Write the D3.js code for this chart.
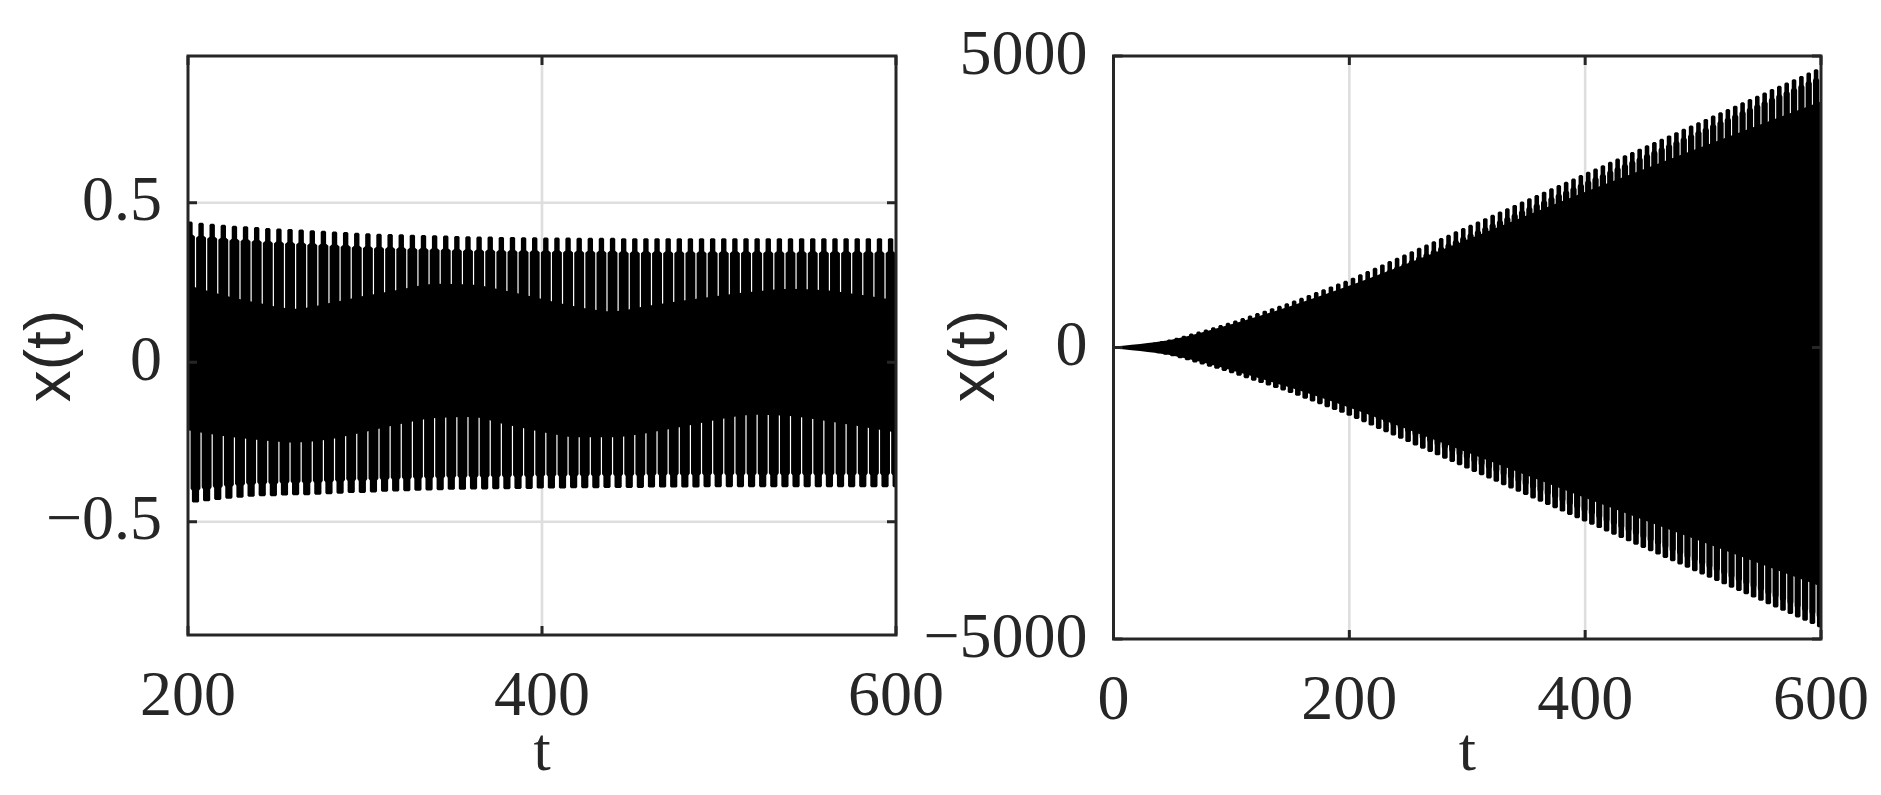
<!DOCTYPE html>
<html><head><meta charset="utf-8">
<script src="https://cdn.jsdelivr.net/npm/d3@7"></script>
<style>body{margin:0;background:#fff}svg{display:block}</style>
</head><body><svg id="c" width="1881" height="795"></svg>
<script>
// ---------- axis ticks ----------
const leftXTicks = [200, 400, 600];
const leftXTickLabels = ["200", "400", "600"];
const leftYTicks = [-0.5, 0, 0.5];
const leftYTickLabels = ["\u22120.5", "0", "0.5"];
const rightXTicks = [0, 200, 400, 600];
const rightXTickLabels = ["0", "200", "400", "600"];
const rightYTicks = [-5000, 0, 5000];
const rightYTickLabels = ["\u22125000", "0", "5000"];
const leftXDomain = [200, 600];
const leftYDomain = [-0.855, 0.96];
const rightXDomain = [0, 600];
const rightYDomain = [-5000, 5000];

// ---------- left panel: per-cycle extremes ----------
const leftPeakStart = 201.1, leftTroughStart = 204.24, leftPeriod = 6.2832;
const leftPeaks = [
  0.441,0.437,0.434,0.431,0.428,0.426,0.424,0.421,
  0.419,0.418,0.416,0.414,0.412,0.410,0.408,0.406,
  0.404,0.403,0.402,0.401,0.400,0.399,0.398,0.397,
  0.396,0.395,0.394,0.394,0.393,0.393,0.392,0.392,
  0.391,0.391,0.391,0.390,0.390,0.390,0.390,0.389,
  0.389,0.389,0.389,0.389,0.389,0.389,0.389,0.389,
  0.389,0.389,0.389,0.389,0.389,0.389,0.389,0.389,
  0.389,0.389,0.389,0.389,0.389,0.389,0.389,0.389];
const leftTroughs = [
  -0.440,-0.436,-0.432,-0.428,-0.425,-0.422,-0.420,-0.420,
  -0.418,-0.417,-0.417,-0.415,-0.414,-0.412,-0.410,-0.410,
  -0.408,-0.406,-0.405,-0.404,-0.403,-0.402,-0.401,-0.400,
  -0.400,-0.399,-0.399,-0.398,-0.398,-0.397,-0.397,-0.396,
  -0.396,-0.396,-0.395,-0.395,-0.395,-0.394,-0.394,-0.394,
  -0.394,-0.393,-0.393,-0.393,-0.393,-0.393,-0.392,-0.392,
  -0.392,-0.392,-0.392,-0.392,-0.392,-0.392,-0.392,-0.392,
  -0.392,-0.392,-0.392,-0.392,-0.392,-0.392,-0.392,-0.392];
// dense inner band of the trace
const leftCoreT  = [200,220,240,260,280,300,320,340,360,380,400,420,440,460,480,500,520,540,560,580,600];
const leftCoreHi = [0.238,0.207,0.182,0.164,0.182,0.205,0.225,0.243,0.240,0.220,0.195,0.170,0.156,0.174,0.190,0.205,0.218,0.227,0.222,0.208,0.190];
const leftCoreLo = [-0.210,-0.228,-0.240,-0.248,-0.238,-0.215,-0.190,-0.171,-0.168,-0.192,-0.215,-0.232,-0.232,-0.218,-0.198,-0.176,-0.161,-0.165,-0.180,-0.198,-0.217];

// ---------- right panel: per-cycle extremes ----------
const rightPeakStart = 3.6, rightTroughStart = 6.72, rightPeriod = 6.234;
const rightPeaks = [
  5,15,30,45,62,85,110,138,168,203,238,274,310,348,385,423,
  462,505,548,590,632,675,717,760,805,853,902,950,998,1048,1097,1145,
  1198,1255,1311,1368,1425,1482,1538,1595,1652,1709,1765,1822,1879,1935,1992,2049,
  2106,2162,2219,2276,2333,2389,2446,2503,2560,2616,2673,2730,2786,2843,2900,2957,
  3013,3070,3127,3184,3240,3297,3354,3411,3467,3524,3581,3638,3694,3751,3808,3864,
  3921,3978,4035,4091,4148,4205,4262,4318,4375,4432,4489,4545,4602,4659,4715,4772];
const rightTroughs = [
  -10,-22,-37,-52,-72,-97,-123,-152,-185,-220,-256,-292,-329,-366,-404,-442,
  -483,-526,-569,-611,-653,-696,-738,-782,-829,-877,-926,-974,-1023,-1072,-1121,-1172,
  -1226,-1283,-1340,-1396,-1453,-1510,-1566,-1623,-1680,-1737,-1793,-1850,-1907,-1964,-2020,-2077,
  -2134,-2190,-2247,-2304,-2361,-2417,-2474,-2531,-2588,-2644,-2701,-2758,-2815,-2871,-2928,-2985,
  -3041,-3098,-3155,-3212,-3268,-3325,-3382,-3439,-3495,-3552,-3609,-3665,-3722,-3779,-3836,-3892,
  -3949,-4006,-4063,-4119,-4176,-4233,-4290,-4346,-4403,-4460,-4517,-4573,-4630,-4687,-4743,-4800];
const rightCoreT  = [0, 50, 100, 150, 200, 300, 400, 500, 600];
const rightCoreHi = [0, 120, 380, 690, 1040, 1830, 2650, 3430, 4200];
const rightCoreLo = [0, -120, -370, -670, -1010, -1780, -2560, -3320, -4080];

// ---------- drawing ----------
const svg = d3.select("#c");
svg.append("rect").attr("width",1881).attr("height",795).attr("fill","#fff");
const AX = "#262626", GRID = "#dedede";

function panel(o) {
  const x = d3.scaleLinear().domain(o.xd).range([o.L, o.R]);
  const y = d3.scaleLinear().domain(o.yd).range([o.B, o.T]);
  const g = svg.append("g");
  // grid
  o.xt.forEach(v => { const px = x(v); if (px > o.L + 2 && px < o.R - 2)
    g.append("line").attr("x1",px).attr("x2",px).attr("y1",o.T).attr("y2",o.B).attr("stroke",GRID).attr("stroke-width",2.6); });
  o.yt.forEach(v => { const py = y(v); if (py > o.T + 2 && py < o.B - 2)
    g.append("line").attr("y1",py).attr("y2",py).attr("x1",o.L).attr("x2",o.R).attr("stroke",GRID).attr("stroke-width",2.6); });
  // clip
  const cid = "clip" + o.id;
  svg.append("clipPath").attr("id", cid).append("rect")
    .attr("x", o.L).attr("y", o.T).attr("width", o.R - o.L).attr("height", o.B - o.T);
  const d = g.append("g").attr("clip-path", `url(#${cid})`);
  // dense core band
  const core = o.coreT.map((t, i) => ({t, hi: o.coreHi[i], lo: o.coreLo[i]}));
  d.append("path").datum(core)
    .attr("d", d3.area().x(p => x(p.t)).y0(p => y(p.lo)).y1(p => y(p.hi)).curve(d3.curveMonotoneX))
    .attr("fill", "#000").attr("stroke", "#000").attr("stroke-width", 2.2);
  // per-cycle excursions
  const sp = x(o.xd[0] + o.period) - x(o.xd[0]);
  const hwW = sp / 2 - o.slit / 2;
  function finger(t, v, hwN, L) {
    const cx = x(t), yt = y(v), y0 = y(0);
    const dir = yt < y0 ? 1 : -1;          // direction from tip toward zero line
    const len = Math.abs(y0 - yt);
    const ys = yt + dir * Math.min(L, len);
    const r = 1.2;
    return `M${cx-hwW},${y0}L${cx-hwW},${ys+dir*2}L${cx-hwN},${ys}L${cx-hwN},${yt+dir*r}` +
           `L${cx-hwN+r},${yt}L${cx+hwN-r},${yt}L${cx+hwN},${yt+dir*r}L${cx+hwN},${ys}` +
           `L${cx+hwW},${ys+dir*2}L${cx+hwW},${y0}Z`;
  }
  const peaks = o.peaks.map((v, i) => ({t: o.peakStart + i * o.period, v}));
  const troughs = o.troughs.map((v, i) => ({t: o.troughStart + i * o.period, v}));
  d.selectAll("path.pk").data(peaks).join("path").attr("class","pk")
    .attr("d", p => finger(p.t, p.v, o.tipUp, o.lenUp)).attr("fill", "#000");
  d.selectAll("path.tr").data(troughs).join("path").attr("class","tr")
    .attr("d", p => finger(p.t, p.v, o.tipDn, o.lenDn)).attr("fill", "#000");
  // box
  g.append("rect").attr("x",o.L).attr("y",o.T).attr("width",o.R-o.L).attr("height",o.B-o.T)
    .attr("fill","none").attr("stroke",AX).attr("stroke-width",3);
  const tl = 9;
  o.xt.forEach(v => { const px = x(v);
    g.append("line").attr("x1",px).attr("x2",px).attr("y1",o.B).attr("y2",o.B-tl).attr("stroke",AX).attr("stroke-width",3);
    g.append("line").attr("x1",px).attr("x2",px).attr("y1",o.T).attr("y2",o.T+tl).attr("stroke",AX).attr("stroke-width",3); });
  o.yt.forEach(v => { const py = y(v);
    g.append("line").attr("y1",py).attr("y2",py).attr("x1",o.L).attr("x2",o.L+tl).attr("stroke",AX).attr("stroke-width",3);
    g.append("line").attr("y1",py).attr("y2",py).attr("x1",o.R).attr("x2",o.R-tl).attr("stroke",AX).attr("stroke-width",3); });
  // tick labels
  const tf = "'Liberation Serif','Times New Roman',serif";
  o.xt.forEach((v, i) => g.append("text").attr("x", x(v)).attr("y", o.B + 80)
    .attr("text-anchor","middle").attr("font-family",tf).attr("font-size",64).attr("fill",AX).text(o.xl[i]));
  o.yt.forEach((v, i) => g.append("text").attr("x", o.L - 26).attr("y", y(v) + 17.5)
    .attr("text-anchor","end").attr("font-family",tf).attr("font-size",64).attr("fill",AX).text(o.yl[i]));
  // axis labels
  g.append("text").attr("x", (o.L + o.R) / 2).attr("y", 770).attr("text-anchor","middle")
    .attr("font-family",tf).attr("font-size",62).attr("fill",AX).text("t");
  g.append("text").attr("transform", `translate(${o.ylx},356) rotate(-90)`).attr("text-anchor","middle")
    .attr("dominant-baseline","central")
    .attr("font-family","'Liberation Sans',Arial,sans-serif").attr("font-size",64).attr("fill",AX).text("x(t)");
}

panel({id:"L", L:188, R:896, T:56, B:635, xd:leftXDomain, yd:leftYDomain,
  xt:leftXTicks, xl:leftXTickLabels, yt:leftYTicks, yl:leftYTickLabels, ylx:48,
  peaks:leftPeaks, troughs:leftTroughs, peakStart:leftPeakStart, troughStart:leftTroughStart, period:leftPeriod,
  coreT:leftCoreT, coreHi:leftCoreHi, coreLo:leftCoreLo,
  slit:1.2, tipUp:2.7, lenUp:13, tipDn:3.6, lenDn:12});
panel({id:"R", L:1113.5, R:1821, T:56, B:639, xd:rightXDomain, yd:rightYDomain,
  xt:rightXTicks, xl:rightXTickLabels, yt:rightYTicks, yl:rightYTickLabels, ylx:972,
  peaks:rightPeaks, troughs:rightTroughs, peakStart:rightPeakStart, troughStart:rightTroughStart, period:rightPeriod,
  coreT:rightCoreT, coreHi:rightCoreHi, coreLo:rightCoreLo,
  slit:1.1, tipUp:2.3, lenUp:9, tipDn:2.8, lenDn:10});
</script></body></html>
